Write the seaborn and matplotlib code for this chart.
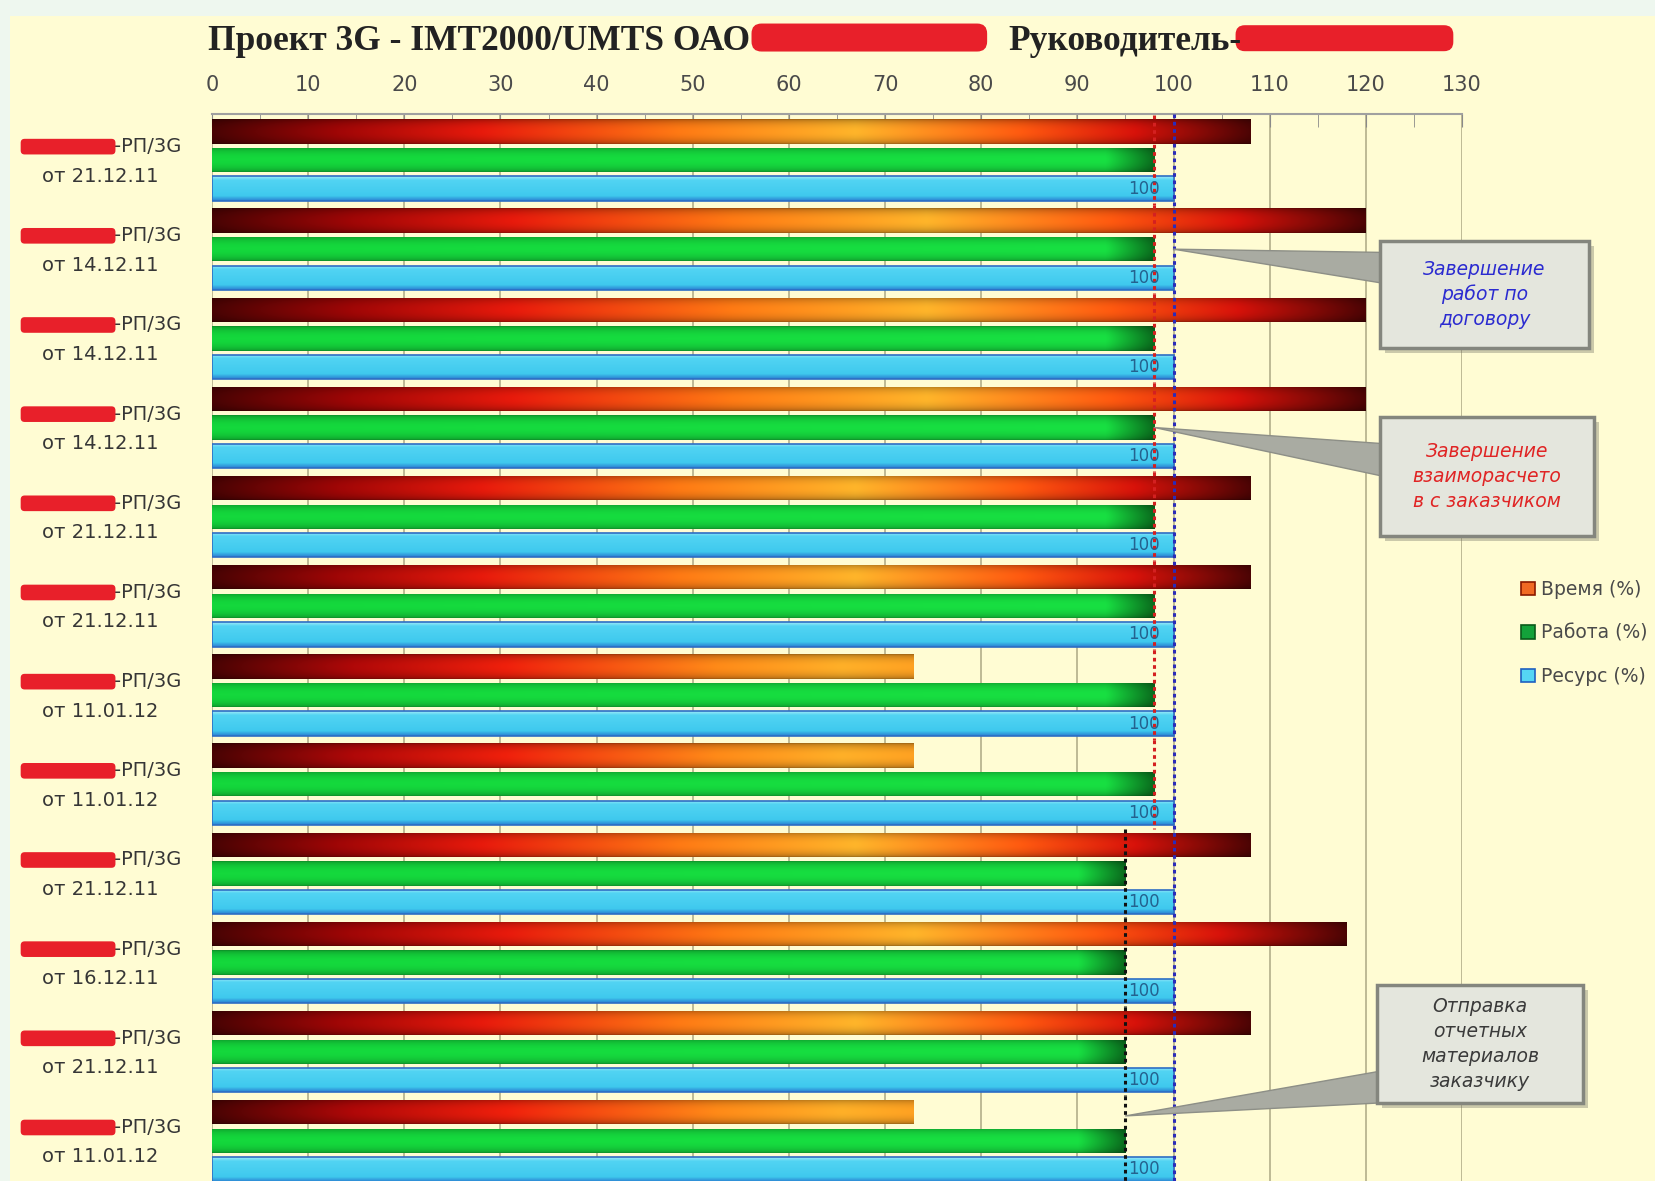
import numpy as np
import pandas as pd
import matplotlib
matplotlib.use("Agg")
import matplotlib.pyplot as plt
import seaborn as sns
from matplotlib.colors import LinearSegmentedColormap
from matplotlib.patches import FancyBboxPatch, Rectangle
from matplotlib.transforms import blended_transform_factory

# ---- data ----
contract_suffix = ["-РП/3G"] * 12
contract_dates = ["от 21.12.11", "от 14.12.11", "от 14.12.11", "от 14.12.11",
                  "от 21.12.11", "от 21.12.11", "от 11.01.12", "от 11.01.12",
                  "от 21.12.11", "от 16.12.11", "от 21.12.11", "от 11.01.12"]
time_pct = [108, 120, 120, 120, 108, 108, 73, 73, 108, 118, 108, 73]
work_pct = [98, 98, 98, 98, 98, 98, 98, 98, 95, 95, 95, 95]
resource_pct = [100] * 12
series = ["Время (%)", "Работа (%)", "Ресурс (%)"]
x_ticks = list(range(0, 131, 10))

W, H = 1655, 1181
keys = [f"№{i + 1}" for i in range(len(time_pct))]
df = pd.DataFrame({
    "Договор": keys * 3,
    "Показатель": [s for s in series for _ in keys],
    "Значение": time_pct + work_pct + resource_pct,
})

sns.set_style("white")
plt.rcParams['font.family'] = ['DejaVu Sans']

fig = plt.figure(figsize=(W / 100, H / 100), dpi=100)
fig.patch.set_facecolor('#eef7ef')
fig.patches.append(Rectangle((10 / W, 0), 1, 1 - 16 / H, transform=fig.transFigure,
                             fc='#fffcd3', ec='none', zorder=-10))

ax = fig.add_axes([212 / W, 0, 1250 / W, 1 - 114 / H])
ax.set_facecolor('#fffcd3')

legend_colors = {"Время (%)": "#f06a24", "Работа (%)": "#13a23a", "Ресурс (%)": "#55d6f4"}
sns.barplot(data=df, x="Значение", y="Договор", hue="Показатель", orient="h",
            palette=legend_colors, width=0.963, gap=0.15, saturation=1,
            edgecolor='none', ax=ax)

# ---- gradient fills like the Excel original ----
time_long = LinearSegmentedColormap.from_list("tl", [
    (0, '#4a0303'), (0.12, '#a00606'), (0.26, '#e81a0c'), (0.45, '#ff7a14'),
    (0.62, '#ffb52a'), (0.78, '#ff5a10'), (0.89, '#d8120a'), (1.0, '#4e0404')])
time_short = LinearSegmentedColormap.from_list("ts", [
    (0, '#4a0303'), (0.2, '#b00808'), (0.42, '#f0200c'), (0.72, '#ff8a18'),
    (0.9, '#ffb028'), (1.0, '#ffa222')])
green = LinearSegmentedColormap.from_list("g", [
    (0, '#14d83c'), (0.95, '#18e042'), (1.0, '#0a6e1e')])
cyan_v = LinearSegmentedColormap.from_list("c", [
    (0, '#9fe9f8'), (0.15, '#52d4f3'), (0.8, '#3fc9ee'), (1.0, '#2a80d2')])

xs = np.linspace(0, 1, 256)
vs = np.linspace(0, 1, 40)
prof = np.sin(np.pi * vs) ** 0.5


def fill_bar(patch, rgb):
    x0, y0 = patch.get_x(), patch.get_y()
    im = ax.imshow(rgb, extent=(x0, x0 + patch.get_width(), y0 + patch.get_height(), y0),
                   aspect='auto', interpolation='bilinear', zorder=2)
    im.set_clip_path(patch)


for patch, v in zip(ax.containers[0], time_pct):
    cmap = time_long if v > 100 else time_short
    rgb = cmap(xs)[None, :, :3] * (0.62 + 0.38 * prof)[:, None, None]
    fill_bar(patch, rgb)
for patch in ax.containers[1]:
    rgb = green(xs)[None, :, :3] * (0.66 + 0.34 * prof)[:, None, None]
    fill_bar(patch, rgb)
for patch in ax.containers[2]:
    rgb = np.repeat(cyan_v(vs)[:, None, :3], 8, axis=1)
    fill_bar(patch, rgb)
    patch.set_edgecolor('#2d6ec4')
    patch.set_linewidth(1.2)
    patch.set_zorder(2.5)
    patch.set_facecolor('none')

ax.bar_label(ax.containers[2], labels=[f"{v}" for v in resource_pct], padding=-33,
             color='#24628f', fontsize=12, zorder=4)

# ---- plan lines ----
idx = np.arange(len(work_pct))
line_cols = ['#d42020' if w == max(work_pct) else '#111111' for w in work_pct]
ax.vlines(work_pct, idx - 0.5, idx + 0.5, colors=line_cols, linestyles=(0, (1.2, 1.2)),
          lw=2.2, zorder=3)
ax.axvline(max(resource_pct), color='#2b2bb8', ls=(0, (1.2, 1.2)), lw=2.2, zorder=3)

# ---- axes ----
ax.set_xlim(0, 130)
ax.set_ylim(11.45, -0.516)
ax.xaxis.tick_top()
ax.set_xticks(x_ticks)
ax.set_xticks(range(5, 130, 10), minor=True)
ax.set_xticklabels([str(t) for t in x_ticks], fontsize=15, color='#4a4a4a')
ax.tick_params(axis='x', which='both', direction='in', length=9, color='#8a8a8a',
               top=True, bottom=False, pad=14)
ax.set_yticks([])
ax.set_xlabel('')
ax.set_ylabel('')
ax.grid(axis='x', color='#b9b590', lw=1.3)
ax.set_axisbelow(True)
for s in ['left', 'right', 'bottom']:
    ax.spines[s].set_visible(False)
ax.spines['top'].set_color('#a0a0a0')
ax.spines['top'].set_linewidth(1.5)

# ---- category labels with redaction marks ----
trans = blended_transform_factory(ax.transAxes, ax.transData)
for i, (suf, dt) in enumerate(zip(contract_suffix, contract_dates)):
    t = ax.text(-0.0244, i - 0.15, suf, transform=trans, ha='right', va='center',
                fontsize=14, color='#363636')
    ax.annotate("\u2007" * 11, xy=(0, 0.5), xycoords=t, ha='right', va='center',
                fontsize=9.5, bbox=dict(boxstyle='round,pad=0.1,rounding_size=0.3',
                                        fc='#e8202a', ec='none'))
    ax.text(-0.0893, i + 0.18, dt, transform=trans, ha='center', va='center',
            fontsize=14, color='#363636')

# ---- title ----
title_font = dict(fontsize=25.5, weight='bold', family=['Liberation Serif', 'DejaVu Serif'],
                  color='#222222', va='baseline')
red_box = dict(boxstyle='round,pad=0.0,rounding_size=0.35', fc='#e8202a', ec='none')
t1 = fig.text(208 / W, 1 - 50 / H, "Проект 3G - IMT2000/UMTS ОАО", **title_font)
t2 = fig.text(1008 / W, 1 - 50 / H, "Руководитель-", **title_font)
fig.add_artist(matplotlib.text.Annotation(
    "\u2007" * 13, xy=(1, 0.62), xycoords=t1, xytext=(1, 0), textcoords='offset points',
    ha='left', va='center', fontsize=20.5, bbox=red_box))
fig.add_artist(matplotlib.text.Annotation(
    "\u2007" * 13, xy=(1, 0.6), xycoords=t2, xytext=(-4, 0), textcoords='offset points',
    ha='left', va='center', fontsize=19, bbox=red_box))

# ---- legend ----
handles, labels = ax.get_legend_handles_labels()
ax.get_legend().remove()
edge = {"Время (%)": '#8a1a00', "Работа (%)": '#0a5a1a', "Ресурс (%)": '#2060c0'}
for h, l in zip(handles, labels):
    h.set_edgecolor(edge[l])
    h.set_linewidth(1.2)
fig.legend(handles, labels, loc='center left', bbox_to_anchor=(1512 / W, 1 - 633 / H),
           frameon=False, fontsize=13.5, handlelength=0.7, handleheight=0.7,
           handletextpad=0.35, labelspacing=1.3, borderpad=0, labelcolor='#4a4a4a')

# ---- callouts ----
callouts = [
    ("Завершение\nработ по\nдоговору", '#2b2bd0', (resource_pct[1], 1.0),
     (1380, 241, 209, 107), (1420, 271), 1.3),
    ("Завершение\nвзаиморасчето\nв с заказчиком", '#e02424', (work_pct[3], 3.0),
     (1380, 417, 214, 119), (1420, 465), 1.35),
    ("Отправка\nотчетных\nматериалов\nзаказчику", '#3a3a3a', (work_pct[11], 10.72),
     (1377, 985, 206, 118), (1417, 1083), 1.3),
]
for text, col, tip, (bx, by, bw, bh), (axp, ayp), tw in callouts:
    ax.annotate("", xy=tip, xycoords='data', xytext=(axp / W, 1 - ayp / H),
                textcoords='figure fraction', annotation_clip=False,
                arrowprops=dict(arrowstyle=f'wedge,tail_width={tw},shrink_factor=0.5',
                                fc='#a9aba2', ec='#8d8f87', lw=1, mutation_scale=20,
                                shrinkA=0, shrinkB=0))
    fig.patches.append(FancyBboxPatch(((bx + 5) / W, 1 - (by + bh + 5) / H), bw / W, bh / H,
                                      boxstyle='square,pad=0', transform=fig.transFigure,
                                      fc='#6a6a60', ec='none', alpha=0.35, zorder=2))
    fig.patches.append(FancyBboxPatch((bx / W, 1 - (by + bh) / H), bw / W, bh / H,
                                      boxstyle='square,pad=0', transform=fig.transFigure,
                                      fc='#e4e6dd', ec='#84867e', lw=2.5, zorder=2.1))
    fig.text((bx + bw / 2) / W, 1 - (by + bh / 2) / H, text, ha='center', va='center',
             fontsize=13.5, style='italic', color=col, linespacing=1.4, zorder=3)

fig.savefig("out.png", dpi=100, facecolor=fig.get_facecolor())
